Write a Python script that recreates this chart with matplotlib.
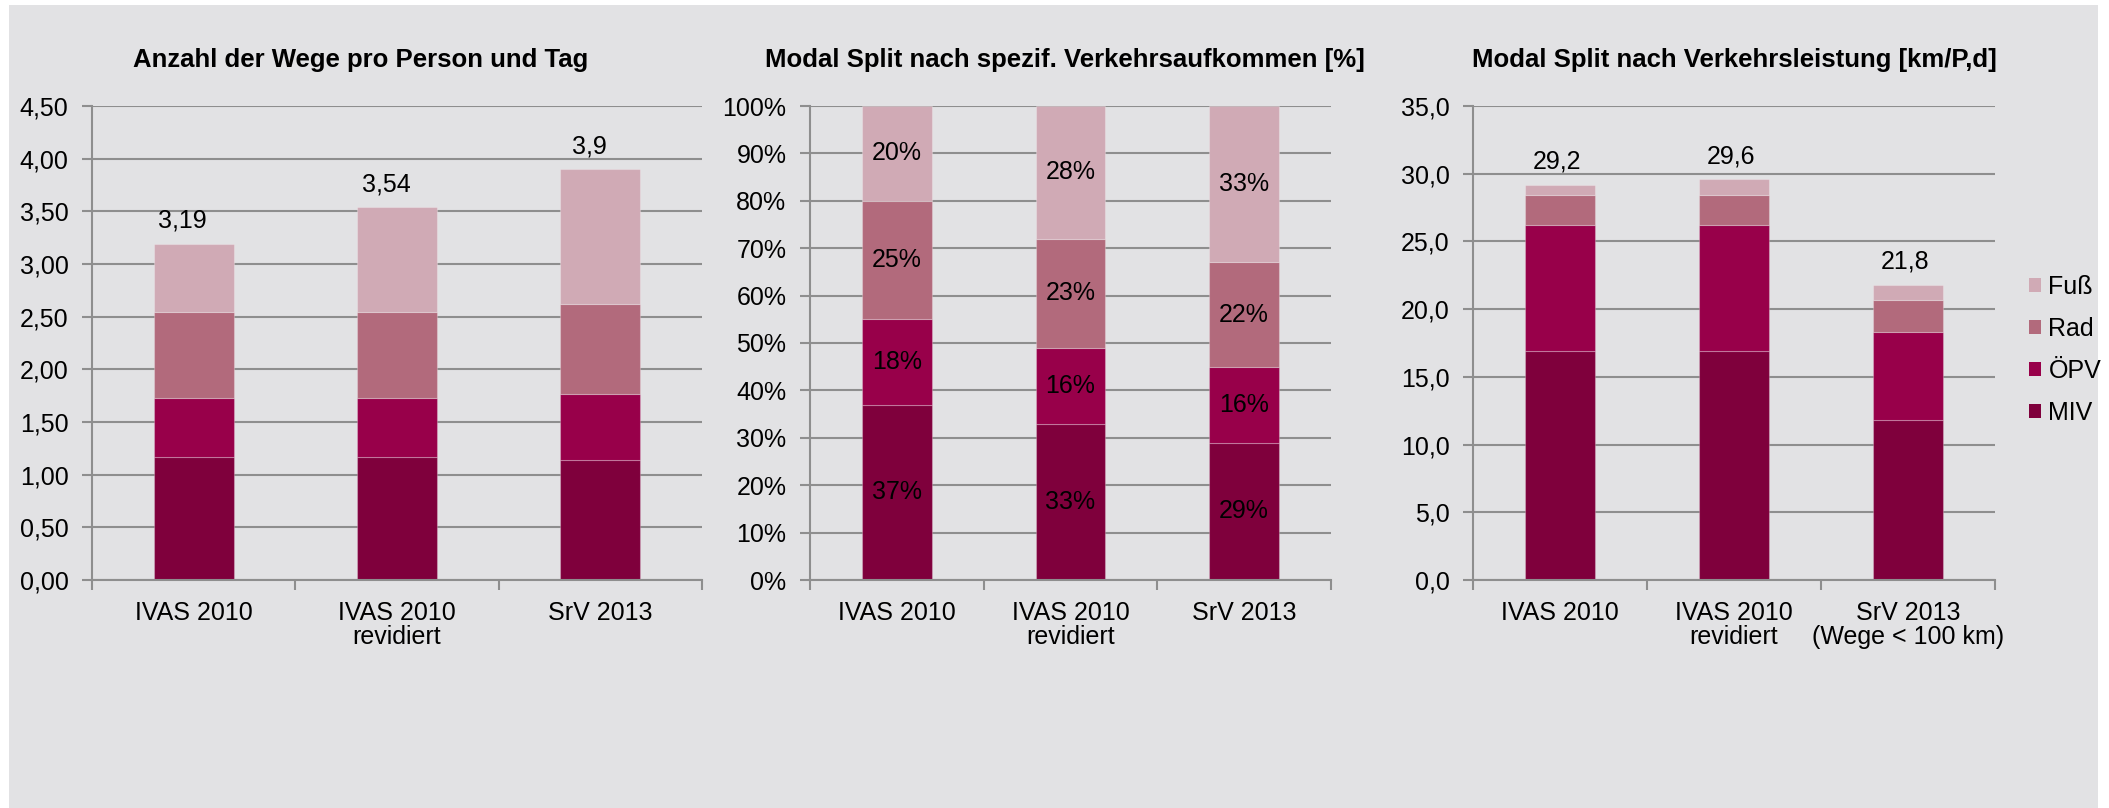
import numpy as np
import matplotlib.pyplot as plt
from matplotlib.patches import Rectangle, Patch

plt.rcParams['font.family'] = ['Liberation Sans', 'DejaVu Sans']

# data
modes = ["MIV", "ÖPV", "Rad", "Fuß"]
cats_a = ["IVAS 2010", "IVAS 2010\nrevidiert", "SrV 2013"]
cats_c = ["IVAS 2010", "IVAS 2010\nrevidiert", "SrV 2013\n(Wege < 100 km)"]

# Anzahl der Wege pro Person und Tag
wege_miv = [1.17, 1.17, 1.14]
wege_oepv = [0.56, 0.56, 0.63]
wege_rad = [0.81, 0.81, 0.85]
wege_fuss = [0.65, 1.00, 1.28]
wege_total = [3.19, 3.54, 3.9]
wege_total_lbl = ["3,19", "3,54", "3,9"]

# Modal Split nach spezif. Verkehrsaufkommen [%]
ms_miv = [37, 33, 29]
ms_oepv = [18, 16, 16]
ms_rad = [25, 23, 22]
ms_fuss = [20, 28, 33]

# Modal Split nach Verkehrsleistung [km/P,d]
km_miv = [16.9, 16.9, 11.8]
km_oepv = [9.3, 9.3, 6.5]
km_rad = [2.2, 2.2, 2.4]
km_fuss = [0.8, 1.2, 1.1]
km_total = [29.2, 29.6, 21.8]
km_total_lbl = ["29,2", "29,6", "21,8"]

colors = ["#7f003c", "#98004a", "#b26a7c", "#d0aab5"]
bg = "#e2e2e4"
grid_c = "#8e8e8e"
FS = 18

fig = plt.figure(figsize=(21.09, 8.08), dpi=100)
fig.patch.set_facecolor("white")
fig.patches.append(Rectangle((9 / 2109, 0), 2089 / 2109, 803 / 808,
                             transform=fig.transFigure, facecolor=bg,
                             edgecolor="none", zorder=-10))

bottom_y = 1 - 580 / 808
height_y = (580 - 106) / 808
ax1 = fig.add_axes([92 / 2109, bottom_y, 610 / 2109, height_y])
ax2 = fig.add_axes([810 / 2109, bottom_y, 521 / 2109, height_y])
ax3 = fig.add_axes([1473 / 2109, bottom_y, 522 / 2109, height_y])


def style_axis(ax, cats, ymax, step, fmt):
    ax.set_facecolor("none")
    ax.set_xlim(-0.5, 2.5)
    ax.set_ylim(0, ymax)
    yt = np.arange(0, ymax + step / 2, step)
    ax.set_yticks(yt)
    ax.set_yticklabels([fmt(v) for v in yt], fontsize=FS)
    ax.set_xticks(range(3))
    ax.set_xticklabels(cats, fontsize=FS, linespacing=1.0)
    ax.set_xticks([-0.5, 0.5, 1.5, 2.5], minor=True)
    ax.tick_params(axis="x", which="major", length=0, pad=15)
    ax.tick_params(axis="x", which="minor", length=7, width=1.5,
                   color=grid_c, direction="out")
    ax.tick_params(axis="y", length=7, width=1.5, color=grid_c,
                   direction="out", pad=10)
    for s in ["top", "right"]:
        ax.spines[s].set_visible(False)
    for s in ["left", "bottom"]:
        ax.spines[s].set_color(grid_c)
        ax.spines[s].set_linewidth(1.5)
    ax.grid(axis="y", color=grid_c, linewidth=1.5)
    ax.set_axisbelow(True)


def stack(ax, series, width):
    x = np.arange(3)
    base = np.zeros(3)
    bars = []
    for vals, c in zip(series, colors):
        b = ax.bar(x, vals, width, bottom=base, color=c,
                   edgecolor=(1, 1, 1, 0.25), linewidth=0.8)
        bars.append(b)
        base = base + np.array(vals)
    return bars


def title(ax, txt, x=0.5):
    ax.set_title(txt, fontsize=18.5, fontweight="bold", pad=28, x=x)


# panel 1
stack(ax1, [wege_miv, wege_oepv, wege_rad, wege_fuss], 0.395)
style_axis(ax1, cats_a, 4.5, 0.5, lambda v: f"{v:.2f}".replace(".", ","))
for i, (t, l) in enumerate(zip(wege_total, wege_total_lbl)):
    ax1.annotate(l, (i, t), xytext=(-8, 8), textcoords="offset points",
                 ha="center", va="bottom", fontsize=FS)
title(ax1, "Anzahl der Wege pro Person und Tag", x=0.44)

# panel 2
bars2 = stack(ax2, [ms_miv, ms_oepv, ms_rad, ms_fuss], 0.4)
style_axis(ax2, cats_a, 100, 10, lambda v: f"{v:.0f}%")
for b, vals in zip(bars2, [ms_miv, ms_oepv, ms_rad, ms_fuss]):
    ax2.bar_label(b, labels=[f"{v}%" for v in vals], label_type="center",
                  fontsize=FS, color="black")
title(ax2, "Modal Split nach spezif. Verkehrsaufkommen [%]", x=0.49)

# panel 3
stack(ax3, [km_miv, km_oepv, km_rad, km_fuss], 0.4)
style_axis(ax3, cats_c, 35, 5, lambda v: f"{v:.1f}".replace(".", ","))
for i, (t, l) in enumerate(zip(km_total, km_total_lbl)):
    ax3.annotate(l, (i, t), xytext=(-2, 8), textcoords="offset points",
                 ha="center", va="bottom", fontsize=FS)
title(ax3, "Modal Split nach Verkehrsleistung [km/P,d]")

handles = [Patch(facecolor=c, label=m) for m, c in zip(modes, colors)][::-1]
fig.legend(handles=handles, loc="center left",
           bbox_to_anchor=(2006 / 2109, 1 - 350 / 808), frameon=False,
           fontsize=FS, handlelength=0.5, handleheight=0.5,
           handletextpad=0.3, labelspacing=0.72)

fig.savefig("out.png", dpi=100, facecolor=fig.get_facecolor())
